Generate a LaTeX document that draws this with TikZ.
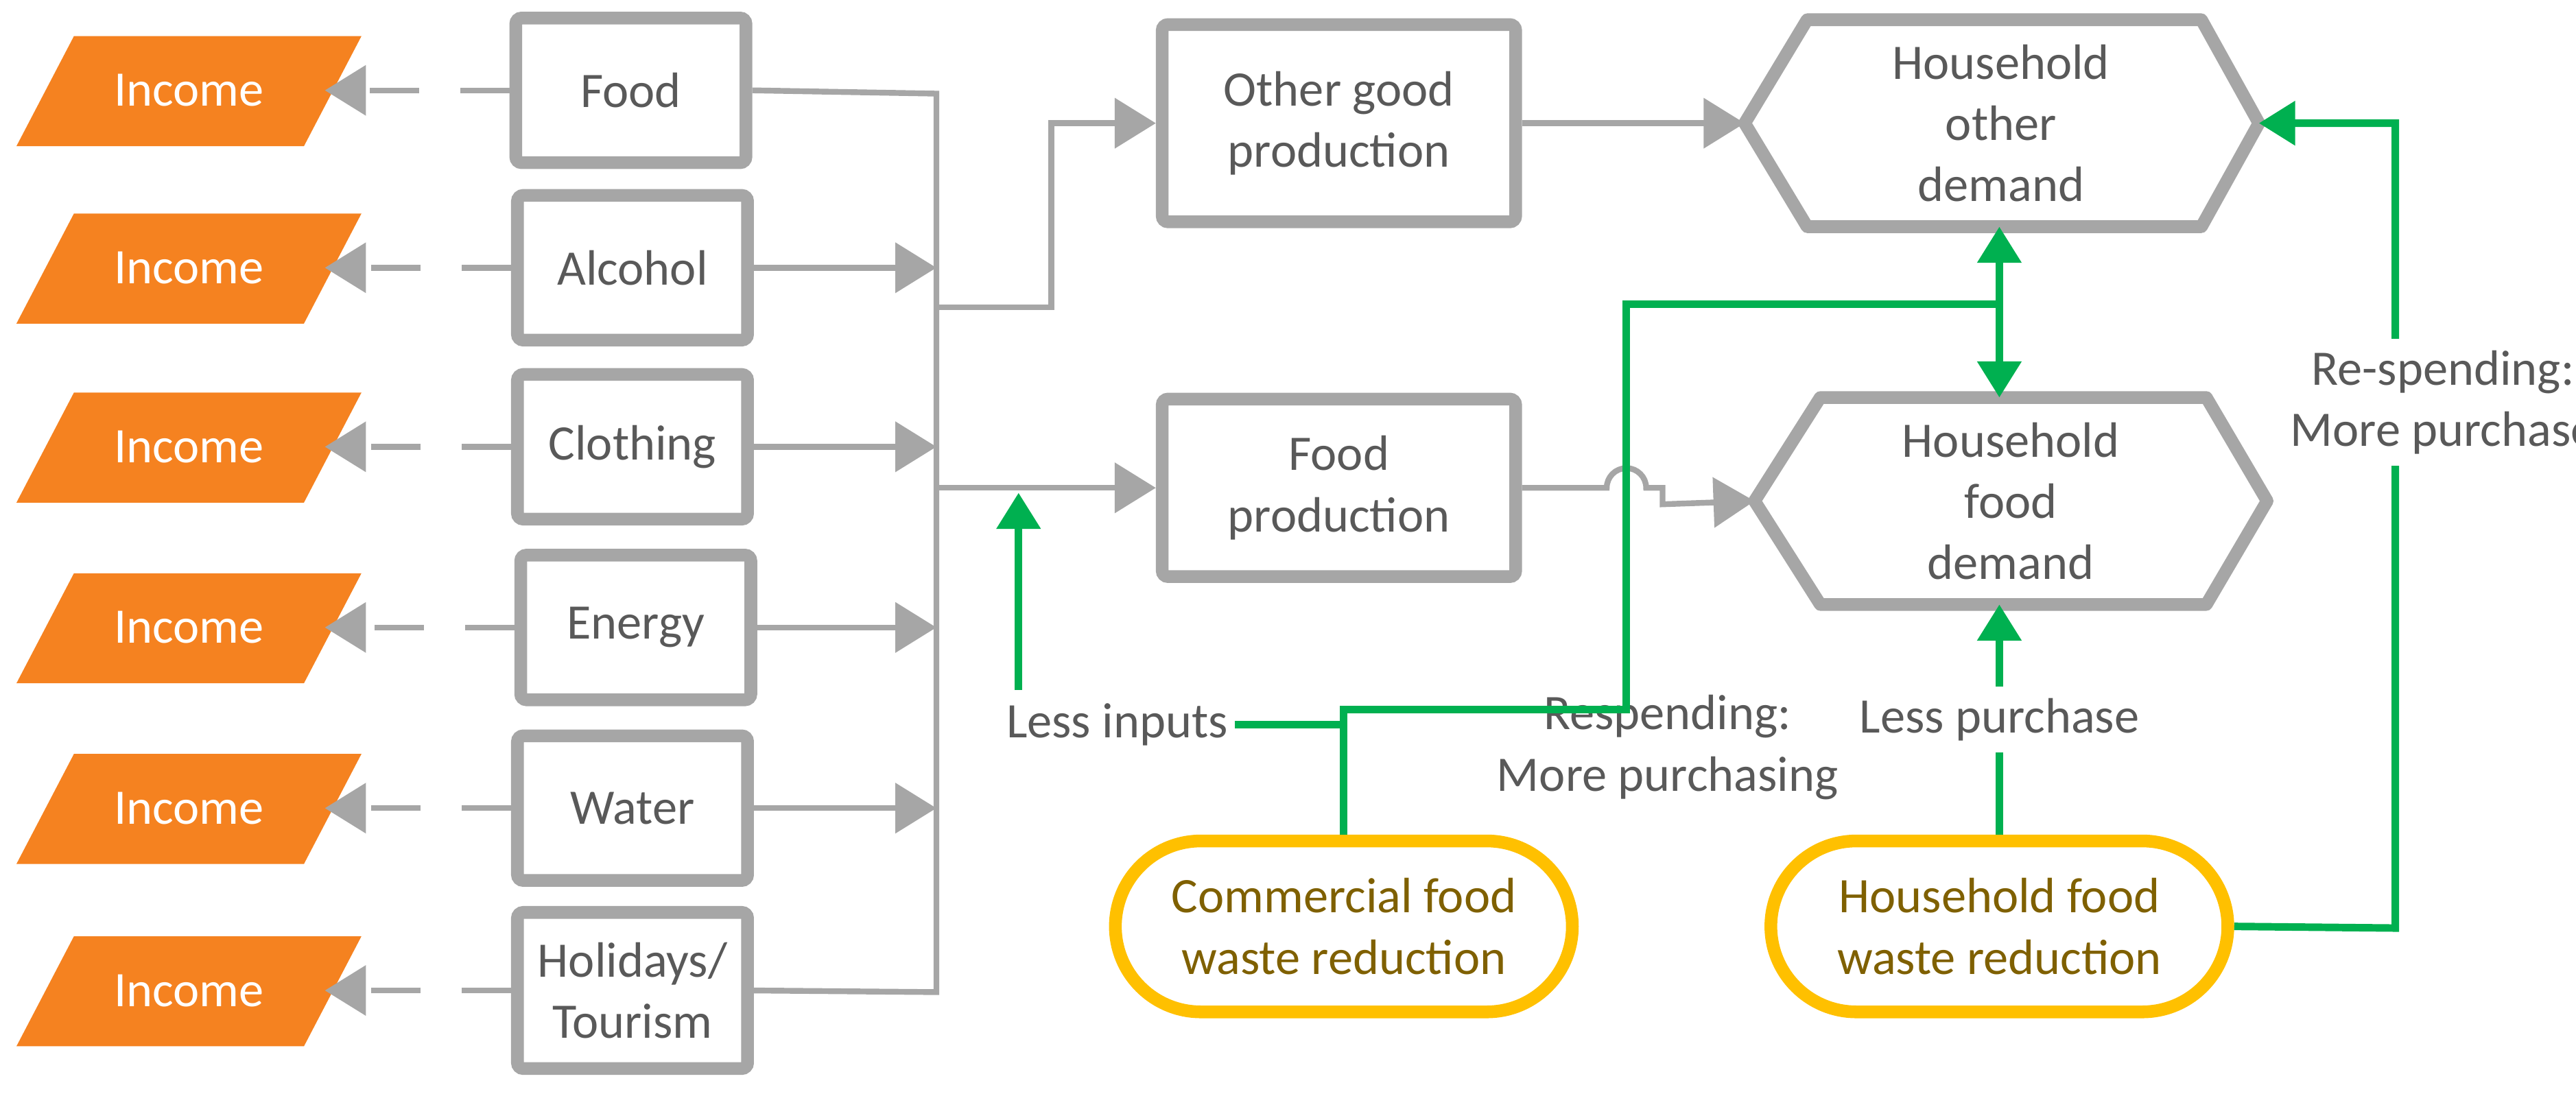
\documentclass[tikz,border=0pt]{standalone}
\usepackage{fontspec}
\setmainfont{Carlito}
\usetikzlibrary{arrows.meta}
\definecolor{gr}{HTML}{A6A6A6}
\definecolor{txt}{HTML}{595959}
\definecolor{org}{HTML}{F58220}
\definecolor{grn}{HTML}{00B050}
\definecolor{yel}{HTML}{FFC000}
\definecolor{gold}{HTML}{7F6000}
\begin{document}
\begin{tikzpicture}[x=0.01cm,y=-0.01cm,
  every node/.style={font=\fontsize{8.6}{10.6}\selectfont, text=txt, align=center, inner sep=1pt},
  box/.style={draw=gr, line width=2.2pt, fill=white, minimum width=1.4cm, minimum height=0.88cm, rounded corners=1pt},
  inc/.style={text=white, minimum width=1.64cm, minimum height=0.6cm},
  pill/.style={draw=yel, line width=2.2pt, rounded corners=0.52cm, minimum width=2.78cm, minimum height=1.04cm, text=gold},
  con/.style={draw=gr, line width=1pt},
  arr/.style={con, -{Triangle[length=0.25cm,width=0.3cm]}},
  darr/.style={arr, dash pattern=on 0.3cm off 0.25cm},
  garr/.style={draw=grn, line width=1.3pt, -{Triangle[length=0.22cm,width=0.26cm]}},
  gl/.style={draw=grn, line width=1.3pt},
  hex/.style={draw=gr, line width=2.2pt, line join=round}]
\useasboundingbox (0,0) rectangle (1568,666);
% income nodes
\foreach \n/\y in {1/55,2/163,3/272,4/382,5/492,6/603}{
  \fill[org] (10,\y+34) -- (45,\y-33) -- (220,\y-33) -- (185,\y+34) -- cycle;
  \node[inc] (i\n) at (115,\y) {Income};
}
% category boxes
\node[box] (b1) at (384,55) {Food};
\node[box] (b2) at (385,163) {Alcohol};
\node[box] (b3) at (385,272) {Clothing};
\node[box] (b4) at (387,382) {Energy};
\node[box] (b5) at (385,492) {Water};
\node[box, minimum height=0.95cm] (b6) at (385,603) {Holidays/\\Tourism};
\foreach \n in {1,...,6}{ \draw[darr] (b\n.west) -- (i\n.east); }
% bus
\coordinate (bt) at (570,57);
\coordinate (bb) at (570,604);
\draw[con] (b1.east) -- (bt) -- (bb) -- (b6.east);
\foreach \n in {2,3,4,5}{ \draw[arr] (b\n.east) -- (570,0 |- b\n.east); }
% production
\node[box, minimum width=2.15cm, minimum height=1.2cm] (op) at (815,75) {Other good\\production};
\node[box, minimum width=2.15cm, minimum height=1.08cm] (fp) at (815,297) {Food\\production};
\coordinate (k1) at (570,187);
\coordinate (k2) at (640,187);
\draw[arr] (k1) -- (k2) -- (640,75) -- (op.west);
\draw[arr] (570,297) -- (fp.west);
% hexagons
\draw[hex] (1062,75) -- (1100,12) -- (1340,12) -- (1375,75) -- (1340,138) -- (1100,138) -- cycle;
\node (hod) at (1218,75) {Household\\other\\demand};
\coordinate (hodL) at (1062,75);
\coordinate (hodR) at (1375,75);
\coordinate (hodB) at (1217,138);
\draw[hex] (1068,305) -- (1108,242) -- (1343,242) -- (1380,305) -- (1343,368) -- (1108,368) -- cycle;
\node (hfd) at (1224,305) {Household\\food\\demand};
\coordinate (hfdL) at (1068,305);
\coordinate (hfdT) at (1217,242);
\coordinate (hfdB) at (1217,368);
\draw[arr] (op.east) -- (hodL);
\draw[arr] (fp.east) -- (978,297) arc[start angle=180,end angle=0,radius=0.12cm] -- (1012,297) -- (1012,307) -- (hfdL);
% pills
\node[pill] (cw) at (818,564) {Commercial food\\waste reduction};
\node[pill] (hw) at (1217,564) {Household food\\waste reduction};
% labels
\node (li) at (680,441) {Less inputs};
\node (rs) at (1015,455) {Respending:\\More purchasing};
% green connectors
\coordinate (g1) at (818,432);
\coordinate (g2) at (990,432);
\coordinate (g3) at (990,185);
\coordinate (g4) at (1217,185);
\draw[gl] (li.east) -- (818,0 |- li.east);
\draw[gl] (cw.north) -- (g1) -- (g2) -- (g3) -- (g4);
\draw[garr] (g4) -- (hodB);
\draw[garr] (g4) -- (hfdT);
\draw[garr] (620,420) -- (620,300);
\draw[garr] (hw.north) -- (hfdB) node[midway, fill=white, inner sep=2pt] {Less purchase};
\coordinate (r1) at (1458,565);
\coordinate (r2) at (1458,75);
\draw[garr] (hw.east) -- (r1) -- (r2) -- (hodR);
\node[fill=white, inner sep=2pt] (rsl) at (1487,245) {Re-spending:\\More purchase};
\end{tikzpicture}
\end{document}
